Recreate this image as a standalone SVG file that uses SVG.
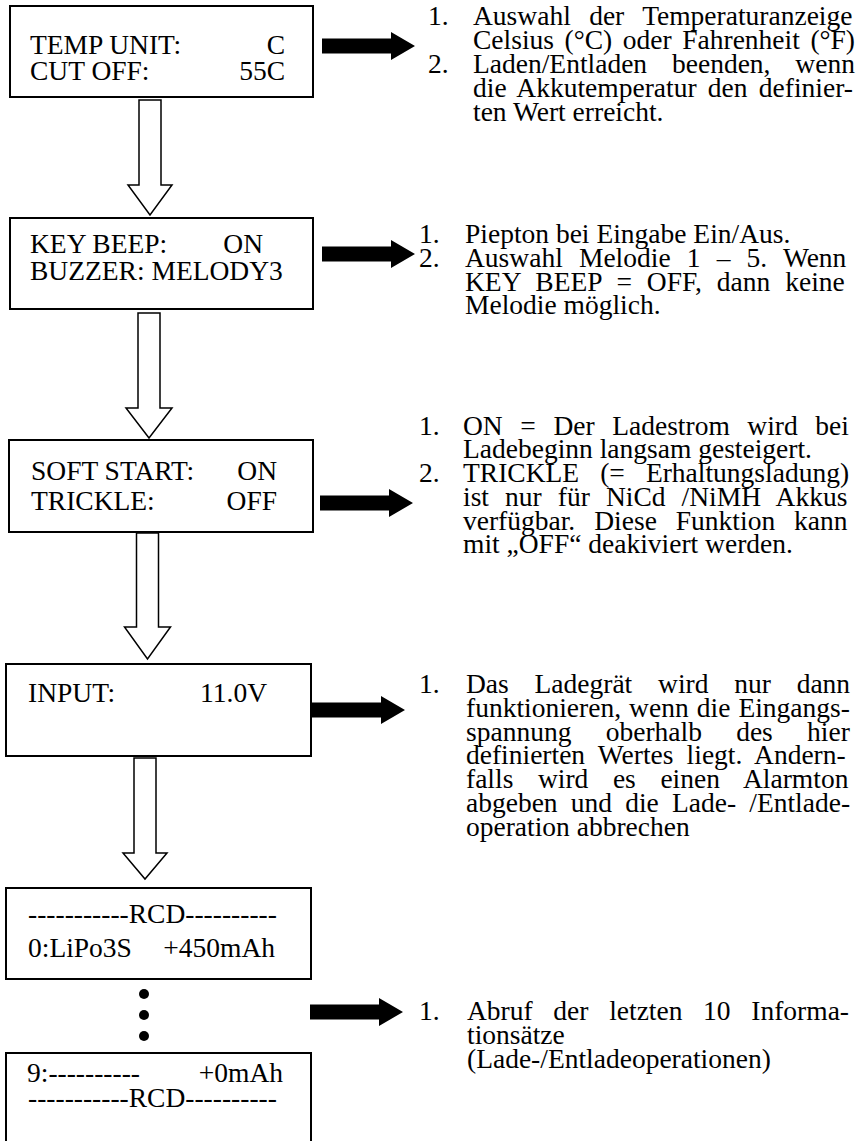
<svg xmlns="http://www.w3.org/2000/svg" width="864" height="1141" viewBox="0 0 864 1141">
<style>
.box{fill:#fff;stroke:#000;stroke-width:2}
.lcd{font-family:"Liberation Serif","Times New Roman",serif;font-size:27.5px;fill:#000}
.r{text-anchor:end}
.desc{font-family:"Liberation Serif","Times New Roman",serif;font-size:27.5px;fill:#000}
.hollow{fill:#fff;stroke:#000;stroke-width:1.5;stroke-linejoin:miter}
.solid{fill:#000;stroke:none}
</style>
<defs>
<polygon id="rarrow" points="0,-7.5 69,-7.5 69,-14 93,0 69,14 69,7.5 0,7.5"/>
</defs>
<rect width="864" height="1141" fill="#fff"/>

<g id="connectors">
<polygon class="hollow" points="139,100 161,100 161,185 172,185 150,215 128,185 139,185"/>
<polygon class="hollow" points="138,313 160,313 160,408 172,408 149,438 126,408 138,408"/>
<polygon class="hollow" points="136.5,533 158.5,533 158.5,627 170.5,627 147.5,659 124.5,627 136.5,627"/>
<polygon class="hollow" points="134,758 156,758 156,853 167,853 145,879 123,853 134,853"/>
<use href="#rarrow" class="solid" x="322" y="46"/>
<use href="#rarrow" class="solid" x="322" y="254"/>
<use href="#rarrow" class="solid" x="320" y="503"/>
<use href="#rarrow" class="solid" x="312" y="710"/>
<use href="#rarrow" class="solid" x="310" y="1012"/>
<circle cx="144" cy="994" r="5" fill="#000"/>
<circle cx="144" cy="1015" r="5" fill="#000"/>
<circle cx="144" cy="1036" r="5" fill="#000"/>
</g>

<g id="node-temp">
<rect class="box" x="10" y="6" width="303" height="91"/>
<text class="lcd" x="30" y="54">TEMP UNIT:</text>
<text class="lcd r" x="285" y="54">C</text>
<text class="lcd" x="30" y="80">CUT OFF:</text>
<text class="lcd r" x="285" y="80">55C</text>
</g>

<g id="node-beep">
<rect class="box" x="10" y="218" width="303" height="91"/>
<text class="lcd" x="30" y="253">KEY BEEP:</text>
<text class="lcd r" x="263" y="253">ON</text>
<text class="lcd" x="30" y="280">BUZZER: MELODY3</text>
</g>

<g id="node-soft">
<rect class="box" x="9" y="440" width="304" height="92"/>
<text class="lcd" x="31" y="480">SOFT START:</text>
<text class="lcd r" x="277" y="480">ON</text>
<text class="lcd" x="31" y="510">TRICKLE:</text>
<text class="lcd r" x="277" y="510">OFF</text>
</g>

<g id="node-input">
<rect class="box" x="6" y="664" width="305" height="92"/>
<text class="lcd" x="28" y="702">INPUT:</text>
<text class="lcd r" x="267" y="702">11.0V</text>
</g>

<g id="node-rcd0">
<rect class="box" x="6" y="888" width="305" height="91"/>
<text class="lcd" x="28" y="923">-----------RCD----------</text>
<text class="lcd" x="28" y="957">0:LiPo3S</text>
<text class="lcd r" x="275" y="957">+450mAh</text>
</g>

<g id="node-rcd9">
<rect class="box" x="6" y="1053" width="305" height="110"/>
<text class="lcd" x="27" y="1082">9:----------</text>
<text class="lcd r" x="283" y="1082">+0mAh</text>
<text class="lcd" x="28" y="1107">-----------RCD----------</text>
</g>

<g id="desc-temp">
<text class="desc" x="428" y="25">1.</text>
<text class="desc" x="473" y="25" word-spacing="11.5">Auswahl der Temperaturanzeige</text>
<text class="desc" x="473" y="49" word-spacing="3.7">Celsius (°C) oder Fahrenheit (°F)</text>
<text class="desc" x="428" y="73">2.</text>
<text class="desc" x="473" y="73" word-spacing="18">Laden/Entladen beenden, wenn</text>
<text class="desc" x="473" y="97" word-spacing="4.4">die Akkutemperatur den definier-</text>
<text class="desc" x="473" y="121">ten Wert erreicht.</text>
</g>

<g id="desc-beep">
<text class="desc" x="419" y="243">1.</text>
<text class="desc" x="465" y="243">Piepton bei Eingabe Ein/Aus.</text>
<text class="desc" x="419" y="267">2.</text>
<text class="desc" x="465" y="267" word-spacing="9.3">Auswahl Melodie 1 – 5. Wenn</text>
<text class="desc" x="465" y="291" word-spacing="8">KEY BEEP = OFF, dann keine</text>
<text class="desc" x="465" y="314">Melodie möglich.</text>
</g>

<g id="desc-soft">
<text class="desc" x="419" y="435">1.</text>
<text class="desc" x="463" y="435" word-spacing="10.7">ON = Der Ladestrom wird bei</text>
<text class="desc" x="463" y="458">Ladebeginn langsam gesteigert.</text>
<text class="desc" x="419" y="482">2.</text>
<text class="desc" x="463" y="482" word-spacing="14.2">TRICKLE (= Erhaltungsladung)</text>
<text class="desc" x="463" y="506" word-spacing="9.2">ist nur für NiCd /NiMH Akkus</text>
<text class="desc" x="463" y="530" word-spacing="12.1">verfügbar. Diese Funktion kann</text>
<text class="desc" x="463" y="553">mit „OFF“ deakiviert werden.</text>
</g>

<g id="desc-input">
<text class="desc" x="419" y="693">1.</text>
<text class="desc" x="466" y="693" word-spacing="18.9">Das Ladegrät wird nur dann</text>
<text class="desc" x="466" y="717" word-spacing="1.2">funktionieren, wenn die Eingangs-</text>
<text class="desc" x="466" y="741" word-spacing="27.4">spannung oberhalb des hier</text>
<text class="desc" x="466" y="764" word-spacing="6.3">definierten Wertes liegt. Andern-</text>
<text class="desc" x="466" y="788" word-spacing="17.7">falls wird es einen Alarmton</text>
<text class="desc" x="466" y="812" word-spacing="6.3">abgeben und die Lade- /Entlade-</text>
<text class="desc" x="466" y="836">operation abbrechen</text>
</g>

<g id="desc-rcd">
<text class="desc" x="419" y="1020">1.</text>
<text class="desc" x="467" y="1020" word-spacing="13.8">Abruf der letzten 10 Informa-</text>
<text class="desc" x="467" y="1044">tionsätze</text>
<text class="desc" x="467" y="1068">(Lade-/Entladeoperationen)</text>
</g>
</svg>
